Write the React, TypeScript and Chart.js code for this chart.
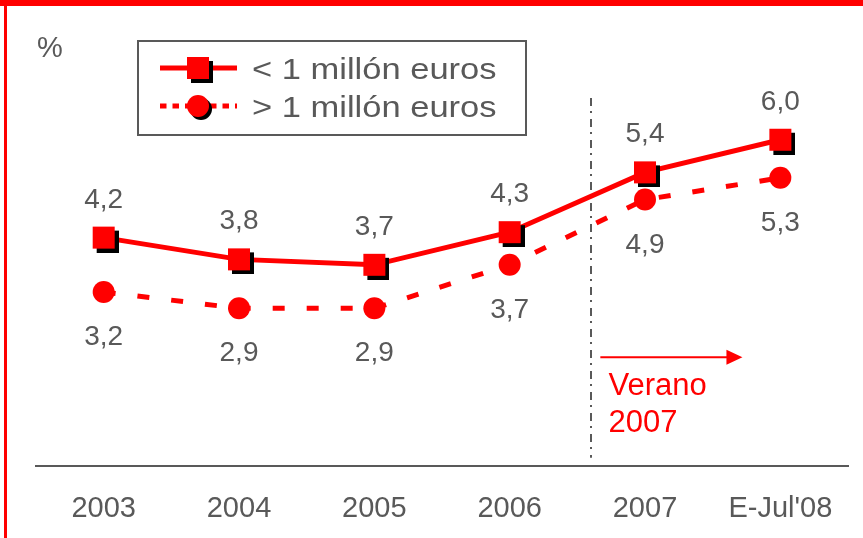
import React, { useEffect, useRef } from 'react';
import { Chart, registerables } from 'chart.js';

Chart.register(...registerables);

const categories = ['2003', '2004', '2005', '2006', '2007', "E-Jul'08"];
const seriesNames = ['< 1 millón euros', '> 1 millón euros'];
const smallValues = [4.2, 3.8, 3.7, 4.3, 5.4, 6.0];
const largeValues = [3.2, 2.9, 2.9, 3.7, 4.9, 5.3];
const yRange = [0, 8];
const unitText = '%';
const summerLineAt = 3.6;
const summerLineSpan = [0.15, 6.77];
const arrowSpan = [3.67, 4.72];
const arrowLevel = 2.0;
const noteAt = [3.73, 1.3];
const noteLines = ['Verano', '2007'];

const RED = '#FF0000';
const GRAY = '#595959';
const FONT = "'Liberation Sans', Arial, sans-serif";
const W = 863;
const H = 538;

const fmt = (v: number) => v.toFixed(1).replace('.', ',');

function squareMarker(): HTMLCanvasElement {
  const c = document.createElement('canvas');
  c.width = 30;
  c.height = 30;
  const g = c.getContext('2d')!;
  g.fillStyle = '#000';
  g.fillRect(8, 8, 22, 22);
  g.fillStyle = RED;
  g.fillRect(4, 4, 22, 22);
  return c;
}

const decor = {
  id: 'decor',
  beforeDatasetsDraw(chart: any) {
    const { ctx, scales } = chart;
    const x = scales.x;
    const y = scales.y;
    ctx.save();
    ctx.strokeStyle = GRAY;
    ctx.lineWidth = 2;
    ctx.setLineDash([8, 5, 2, 6]);
    const lx = Math.round(x.getPixelForValue(summerLineAt));
    ctx.beginPath();
    ctx.moveTo(lx, y.getPixelForValue(summerLineSpan[1]));
    ctx.lineTo(lx, y.getPixelForValue(summerLineSpan[0]));
    ctx.stroke();
    ctx.restore();
  },
  afterDatasetsDraw(chart: any) {
    const { ctx } = chart;
    ctx.save();
    ctx.fillStyle = GRAY;
    ctx.font = `28px ${FONT}`;
    ctx.textAlign = 'center';
    ctx.textBaseline = 'alphabetic';
    chart.data.datasets.forEach((ds: any, di: number) => {
      const meta = chart.getDatasetMeta(di);
      meta.data.forEach((pt: any, i: number) => {
        const v = ds.data[i];
        const ty = di === 0 ? pt.y - 30 : pt.y + 53;
        ctx.fillText(fmt(v), pt.x, ty);
      });
    });
    ctx.restore();
  },
  afterDraw(chart: any) {
    const { ctx, scales } = chart;
    const x = scales.x;
    const y = scales.y;
    ctx.save();
    // frame
    ctx.fillStyle = RED;
    ctx.fillRect(0, 0, W, 6);
    ctx.fillRect(4, 0, 3, H);

    // unit
    ctx.fillStyle = GRAY;
    ctx.font = `29px ${FONT}`;
    ctx.textAlign = 'left';
    ctx.textBaseline = 'alphabetic';
    ctx.fillText(unitText, 37, 57);

    // legend
    ctx.strokeStyle = GRAY;
    ctx.lineWidth = 2;
    ctx.strokeRect(138, 41, 388, 94);
    const rows = [68, 106];
    ctx.strokeStyle = RED;
    ctx.lineWidth = 5;
    ctx.beginPath();
    ctx.moveTo(160, rows[0]);
    ctx.lineTo(237, rows[0]);
    ctx.stroke();
    const sq = squareMarker();
    ctx.drawImage(sq, 198 - 15, rows[0] - 15);
    ctx.setLineDash([6.5, 6]);
    ctx.beginPath();
    ctx.moveTo(160, rows[1]);
    ctx.lineTo(237, rows[1]);
    ctx.stroke();
    ctx.setLineDash([]);
    ctx.fillStyle = '#000';
    ctx.beginPath();
    ctx.arc(201, rows[1] + 3, 11, 0, Math.PI * 2);
    ctx.fill();
    ctx.fillStyle = RED;
    ctx.beginPath();
    ctx.arc(198, rows[1], 11, 0, Math.PI * 2);
    ctx.fill();
    ctx.fillStyle = GRAY;
    ctx.font = `30px ${FONT}`;
    seriesNames.forEach((name, i) => {
      ctx.save();
      ctx.translate(252, rows[i] + 11);
      ctx.scale(1.15, 1);
      ctx.fillText(name, 0, 0);
      ctx.restore();
    });

    // arrow
    const ax0 = x.getPixelForValue(arrowSpan[0]);
    const ax1 = x.getPixelForValue(arrowSpan[1]);
    const ay = y.getPixelForValue(arrowLevel);
    ctx.strokeStyle = RED;
    ctx.fillStyle = RED;
    ctx.lineWidth = 2;
    ctx.beginPath();
    ctx.moveTo(ax0, ay);
    ctx.lineTo(ax1 - 14, ay);
    ctx.stroke();
    ctx.beginPath();
    ctx.moveTo(ax1, ay);
    ctx.lineTo(ax1 - 16, ay - 7.5);
    ctx.lineTo(ax1 - 16, ay + 7.5);
    ctx.closePath();
    ctx.fill();

    // note
    ctx.font = `31px ${FONT}`;
    const nx = x.getPixelForValue(noteAt[0]);
    const ny = y.getPixelForValue(noteAt[1]);
    noteLines.forEach((t, i) => ctx.fillText(t, nx, ny + i * 37));
    ctx.restore();
  },
};

export default function App() {
  const ref = useRef<HTMLCanvasElement | null>(null);
  useEffect(() => {
    if (!ref.current) return;
    const sq = squareMarker();
    const chart = new Chart(ref.current, {
      type: 'line',
      data: {
        labels: categories,
        datasets: [
          {
            label: seriesNames[0],
            data: smallValues,
            borderColor: RED,
            borderWidth: 5,
            pointStyle: sq as any,
            pointRadius: 11,
            pointBackgroundColor: RED,
            pointBorderWidth: 0,
            tension: 0,
            fill: false,
          },
          {
            label: seriesNames[1],
            data: largeValues,
            borderColor: RED,
            borderWidth: 5,
            borderDash: [12, 22],
            pointStyle: 'circle',
            pointRadius: 11,
            pointBackgroundColor: RED,
            pointBorderWidth: 0,
            tension: 0,
            fill: false,
          },
        ],
      },
      options: {
        responsive: false,
        animation: false,
        devicePixelRatio: 1,
        events: [],
        layout: { padding: { left: 36, right: 15, top: 31, bottom: 0 } },
        plugins: { legend: { display: false }, tooltip: { enabled: false } },
        scales: {
          x: {
            type: 'category',
            offset: true,
            grid: { display: false, drawTicks: false },
            border: { display: true, color: GRAY, width: 2 },
            ticks: {
              color: GRAY,
              font: { family: FONT, size: 29 },
              padding: 26,
              maxRotation: 0,
              autoSkip: false,
            },
            afterFit(scale: any) {
              scale.height = 72;
            },
          },
          y: { display: false, min: yRange[0], max: yRange[1] },
        },
      },
      plugins: [decor],
    });
    return () => chart.destroy();
  }, []);
  return (
    <div style={{ position: 'absolute', left: 0, top: 0, width: W, height: H, background: '#fff' }}>
      <canvas ref={ref} width={W} height={H} style={{ display: 'block' }} />
    </div>
  );
}
